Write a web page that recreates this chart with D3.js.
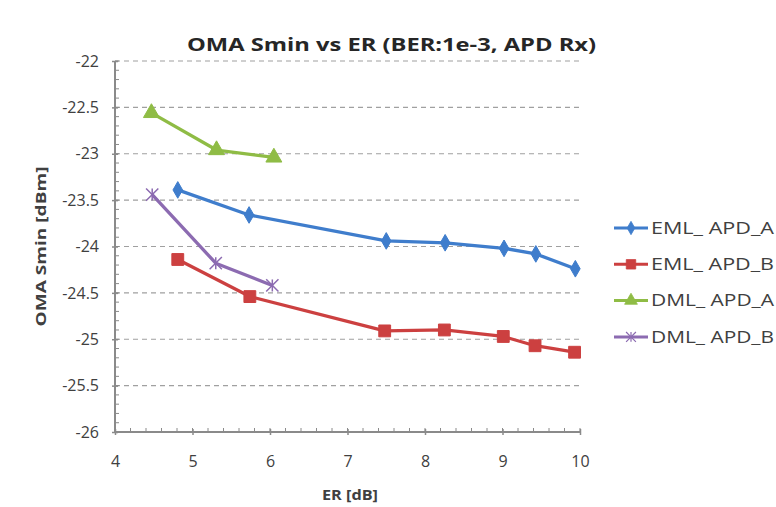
<!DOCTYPE html>
<html>
<head>
<meta charset="utf-8">
<script src="https://cdn.jsdelivr.net/npm/d3@7"></script>
<style>
  body { margin: 0; background: #fff; }
  text { font-family: "Open Sans", sans-serif; fill: #404040; }
</style>
</head>
<body>
<div id="chart"></div>
<script>
// data
var seriesNames = ["EML_ APD_A", "EML_ APD_B", "DML_ APD_A", "DML_ APD_B"];
var emlA = [[4.81, -23.39], [5.73, -23.66], [7.5, -23.94], [8.26, -23.96], [9.02, -24.02], [9.43, -24.08], [9.94, -24.24]];
var emlB = [[4.81, -24.14], [5.74, -24.54], [7.48, -24.91], [8.25, -24.9], [9.01, -24.97], [9.42, -25.07], [9.93, -25.14]];
var dmlA = [[4.47, -22.56], [5.31, -22.96], [6.05, -23.04]];
var dmlB = [[4.48, -23.44], [5.3, -24.18], [6.03, -24.42]];
var xTicks = [4, 5, 6, 7, 8, 9, 10];
var yTicks = [-22, -22.5, -23, -23.5, -24, -24.5, -25, -25.5, -26];

var colors = ["#3f7dcc", "#cc4040", "#8fbc45", "#8c6bb1"];
var markers = ["diamond", "square", "triangle", "star"];
var allSeries = [emlA, emlB, dmlA, dmlB];

var width = 776, height = 507;
var margin = {top: 61, left: 115, right: 196, bottom: 75};

var svg = d3.select("#chart").append("svg")
  .attr("width", width)
  .attr("height", height);

var x = d3.scaleLinear().domain([4, 10]).range([margin.left, width - margin.right]);
var y = d3.scaleLinear().domain([-26, -22]).range([height - margin.bottom, margin.top]);

// gridlines
svg.append("g")
  .selectAll("line")
  .data(yTicks)
  .enter()
  .append("line")
  .attr("x1", x(4))
  .attr("x2", x(10))
  .attr("y1", function(d){ return y(d); })
  .attr("y2", function(d){ return y(d); })
  .attr("stroke", "#a0a0a0")
  .attr("stroke-width", 1.2)
  .attr("stroke-dasharray", "5,4");

// minor ticks
var yMinor = d3.range(-26, -21.99, 0.1);
svg.append("g")
  .selectAll("line")
  .data(yMinor)
  .enter()
  .append("line")
  .attr("x1", x(4))
  .attr("x2", x(4) + 4)
  .attr("y1", function(d){ return y(d); })
  .attr("y2", function(d){ return y(d); })
  .attr("stroke", "#8a8a8a");

var xMinor = d3.range(4, 10.01, 0.2);
svg.append("g")
  .selectAll("line")
  .data(xMinor)
  .enter()
  .append("line")
  .attr("x1", function(d){ return x(d); })
  .attr("x2", function(d){ return x(d); })
  .attr("y1", y(-26))
  .attr("y2", y(-26) - 4)
  .attr("stroke", "#8a8a8a");

// axes
var xAxis = d3.axisBottom(x).tickValues(xTicks).tickSize(6).tickPadding(21)
  .tickFormat(d3.format("d"));
var gx = svg.append("g")
  .attr("transform", "translate(0," + (y(-26) - 3) + ")")
  .call(xAxis);
gx.select(".domain").attr("stroke", "#8a8a8a").attr("stroke-width", 2).attr("d", "M" + x(4) + ",3H" + x(10));
gx.selectAll(".tick line").attr("stroke", "#8a8a8a").attr("stroke-width", 1.5);
gx.selectAll("text").style("font-size", "16px").style("fill", "#404040");

var yAxis = d3.axisLeft(y).tickValues(yTicks).tickSize(6).tickPadding(13)
  .tickFormat(function(d){ return d; });
var gy = svg.append("g")
  .attr("transform", "translate(" + (x(4) + 3) + ",0)")
  .call(yAxis);
gy.select(".domain").attr("stroke", "#8a8a8a").attr("stroke-width", 2).attr("d", "M-3," + y(-22) + "V" + y(-26));
gy.selectAll(".tick line").attr("stroke", "#8a8a8a").attr("stroke-width", 1.5);
gy.selectAll("text").style("font-size", "16px").style("fill", "#404040");

// lines and markers
var line = d3.line()
  .x(function(d){ return x(d[0]); })
  .y(function(d){ return y(d[1]); });

var symbolTypes = {
  diamond: d3.symbolDiamond,
  square: d3.symbolSquare,
  triangle: d3.symbolTriangle
};
var symbolSizes = {diamond: 80, square: 140, triangle: 110, star: 100};

function drawMarker(g, type, color) {
  if (type === "star") {
    g.append("path")
      .attr("d", d3.symbol().type(d3.symbolX).size(symbolSizes.star)())
      .attr("stroke", color)
      .attr("stroke-width", 1.5)
      .attr("fill", "none");
    g.append("line")
      .attr("y1", -6).attr("y2", 6)
      .attr("stroke", color)
      .attr("stroke-width", 1.5);
  } else {
    g.append("path")
      .attr("d", d3.symbol().type(symbolTypes[type]).size(symbolSizes[type])())
      .attr("fill", color)
      .attr("stroke", color);
  }
}

allSeries.forEach(function(data, i){
  svg.append("path")
    .datum(data)
    .attr("d", line)
    .attr("fill", "none")
    .attr("stroke", colors[i])
    .attr("stroke-width", 3.3)
    .attr("stroke-linejoin", "round");

  data.forEach(function(d){
    var g = svg.append("g")
      .attr("transform", "translate(" + x(d[0]) + "," + y(d[1]) + ")");
    drawMarker(g, markers[i], colors[i]);
  });
});

// legend
var legend = svg.append("g").attr("transform", "translate(614,228)");
seriesNames.forEach(function(name, i){
  var row = legend.append("g").attr("transform", "translate(0," + (i * 36.3) + ")");
  row.append("line")
    .attr("x1", 0).attr("x2", 34)
    .attr("stroke", colors[i])
    .attr("stroke-width", 3);
  var m = row.append("g").attr("transform", "translate(17,0) scale(0.8)");
  drawMarker(m, markers[i], colors[i]);
  row.append("text")
    .attr("x", 37)
    .attr("dy", "0.36em")
    .attr("textLength", 123)
    .attr("lengthAdjust", "spacingAndGlyphs")
    .style("font-size", "16px")
    .text(name);
});

// title
svg.append("text")
  .attr("x", 187)
  .attr("y", 51)
  .attr("textLength", 409)
  .attr("lengthAdjust", "spacingAndGlyphs")
  .style("font-size", "18px")
  .style("font-weight", "bold")
  .style("fill", "#262626")
  .text("OMA Smin vs ER (BER:1e-3, APD Rx)");

// axis titles
svg.append("text")
  .attr("x", 322)
  .attr("y", 500)
  .attr("textLength", 56)
  .attr("lengthAdjust", "spacingAndGlyphs")
  .style("font-size", "15px")
  .style("font-weight", "bold")
  .text("ER [dB]");

svg.append("text")
  .attr("transform", "translate(46," + (y(-24) + 80) + ") rotate(-90)")
  .attr("textLength", 160)
  .attr("lengthAdjust", "spacingAndGlyphs")
  .style("font-size", "15px")
  .style("font-weight", "bold")
  .text("OMA Smin [dBm]");
</script>
</body>
</html>
